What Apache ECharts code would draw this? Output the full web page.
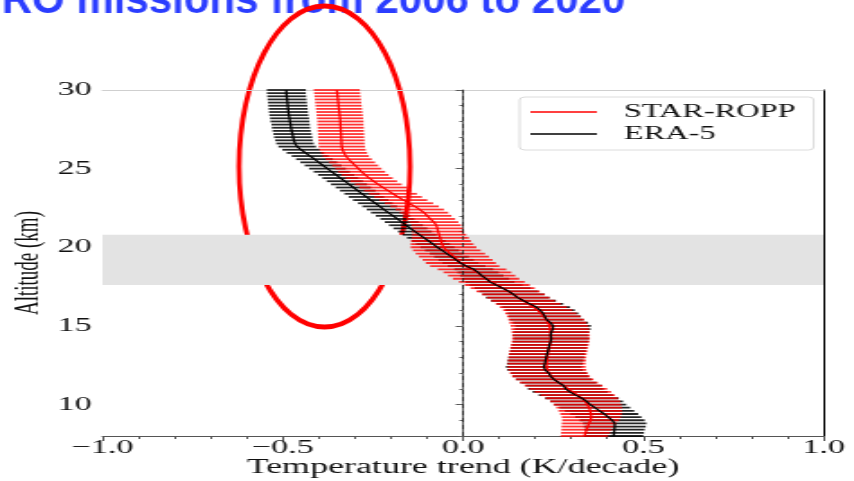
<!DOCTYPE html>
<html>
<head>
<meta charset="utf-8">
<script src="https://cdn.jsdelivr.net/npm/echarts@6/dist/echarts.min.js"></script>
<style>
html,body{margin:0;padding:0;background:#fff;overflow:hidden;}
#wrap{width:854px;height:481px;overflow:hidden;position:relative;background:#fff;}
#chart{width:475px;height:481px;transform:scaleX(1.797895);transform-origin:0 0;}
</style>
</head>
<body>
<div id="wrap"><div id="chart"></div></div>
<script>
// Altitude levels (km)
const altitudes = [
 8.0, 8.2, 8.4, 8.6, 8.8, 9.0, 9.2, 9.4, 9.6, 9.8,
 10.0,10.2,10.4,10.6,10.8,11.0,11.2,11.4,11.6,11.8,
 12.0,12.2,12.4,12.6,12.8,13.0,13.2,13.4,13.6,13.8,
 14.0,14.2,14.4,14.6,14.8,15.0,15.2,15.4,15.6,15.8,
 16.0,16.2,16.4,16.6,16.8,17.0,17.2,17.4,17.6,17.8,
 18.0,18.2,18.4,18.6,18.8,19.0,19.2,19.4,19.6,19.8,
 20.0,20.2,20.4,20.6,20.8,21.0,21.2,21.4,21.6,21.8,
 22.0,22.2,22.4,22.6,22.8,23.0,23.2,23.4,23.6,23.8,
 24.0,24.2,24.4,24.6,24.8,25.0,25.2,25.4,25.6,25.8,
 26.0,26.2,26.4,26.6,26.8,27.0,27.2,27.4,27.6,27.8,
 28.0,28.2,28.4,28.6,28.8,29.0,29.2,29.4,29.6,29.8,
 30.0
];
// STAR-ROPP temperature trend (K/decade)
const starTrend = [
 0.337,0.340,0.343,0.346,0.350,0.354,0.356,0.355,0.353,0.350,
 0.345,0.339,0.330,0.318,0.305,0.292,0.279,0.266,0.254,0.244,
 0.238,0.234,0.232,0.232,0.233,0.234,0.235,0.237,0.239,0.241,
 0.243,0.244,0.244,0.243,0.242,0.240,0.236,0.231,0.224,0.216,
 0.207,0.195,0.181,0.167,0.153,0.140,0.125,0.110,0.095,0.080,
 0.064,0.052,0.040,0.025,0.005,-0.006,-0.015,-0.025,-0.035,-0.045,
 -0.054,-0.058,-0.061,-0.063,-0.066,-0.069,-0.071,-0.074,-0.081,-0.090,
 -0.099,-0.108,-0.120,-0.134,-0.150,-0.165,-0.180,-0.194,-0.208,-0.222,
 -0.235,-0.248,-0.260,-0.271,-0.281,-0.290,-0.299,-0.308,-0.317,-0.325,
 -0.330,-0.334,-0.336,-0.337,-0.337,-0.338,-0.338,-0.339,-0.339,-0.340,
 -0.340,-0.341,-0.342,-0.343,-0.344,-0.345,-0.346,-0.347,-0.348,-0.349,
 -0.350
];
// STAR-ROPP uncertainty half-width (K/decade)
const starHalf = [
 0.066,0.068,0.070,0.073,0.076,0.079,0.082,0.085,0.088,0.091,
 0.094,0.097,0.100,0.103,0.106,0.108,0.108,0.108,0.108,0.108,
 0.108,0.108,0.108,0.108,0.108,0.108,0.108,0.108,0.108,0.108,
 0.108,0.108,0.108,0.108,0.108,0.108,0.107,0.105,0.102,0.099,
 0.096,0.093,0.090,0.088,0.087,0.087,0.088,0.089,0.090,0.091,
 0.092,0.093,0.094,0.095,0.096,0.097,0.097,0.097,0.096,0.094,
 0.091,0.087,0.083,0.079,0.075,0.072,0.070,0.069,0.068,0.068,
 0.067,0.067,0.067,0.067,0.067,0.066,0.066,0.066,0.066,0.066,
 0.065,0.065,0.065,0.065,0.065,0.064,0.064,0.064,0.064,0.064,
 0.064,0.064,0.064,0.064,0.064,0.064,0.064,0.064,0.064,0.064,
 0.064,0.064,0.064,0.064,0.064,0.064,0.064,0.064,0.064,0.064,
 0.064
];
// ERA-5 temperature trend (K/decade)
const eraTrend = [
 0.418,0.419,0.420,0.421,0.421,0.414,0.403,0.392,0.379,0.366,
 0.353,0.343,0.330,0.313,0.297,0.285,0.279,0.265,0.252,0.243,
 0.238,0.228,0.224,0.227,0.229,0.231,0.233,0.236,0.238,0.240,
 0.243,0.245,0.243,0.245,0.249,0.250,0.243,0.232,0.227,0.222,
 0.214,0.203,0.186,0.168,0.152,0.140,0.127,0.110,0.092,0.075,
 0.064,0.052,0.042,0.030,0.010,-0.007,-0.019,-0.032,-0.045,-0.058,
 -0.071,-0.083,-0.095,-0.108,-0.121,-0.133,-0.146,-0.158,-0.170,-0.182,
 -0.194,-0.207,-0.219,-0.231,-0.243,-0.256,-0.268,-0.280,-0.292,-0.304,
 -0.316,-0.328,-0.340,-0.352,-0.364,-0.376,-0.388,-0.400,-0.412,-0.424,
 -0.437,-0.449,-0.460,-0.466,-0.469,-0.471,-0.473,-0.475,-0.477,-0.478,
 -0.480,-0.481,-0.483,-0.484,-0.485,-0.486,-0.487,-0.488,-0.489,-0.490,
 -0.490
];
// ERA-5 uncertainty half-width (K/decade)
const eraHalf = [
 0.082,0.083,0.084,0.086,0.088,0.090,0.092,0.094,0.096,0.098,
 0.100,0.101,0.102,0.103,0.104,0.105,0.105,0.105,0.105,0.105,
 0.105,0.105,0.105,0.105,0.105,0.105,0.105,0.105,0.105,0.105,
 0.105,0.105,0.105,0.105,0.105,0.105,0.104,0.102,0.100,0.098,
 0.096,0.094,0.092,0.090,0.088,0.086,0.082,0.078,0.073,0.068,
 0.064,0.060,0.057,0.054,0.052,0.050,0.049,0.048,0.047,0.047,
 0.047,0.047,0.047,0.047,0.047,0.047,0.047,0.047,0.047,0.047,
 0.048,0.048,0.048,0.048,0.048,0.049,0.049,0.049,0.049,0.049,
 0.050,0.050,0.050,0.050,0.050,0.051,0.051,0.051,0.051,0.051,
 0.052,0.052,0.052,0.052,0.052,0.053,0.053,0.053,0.053,0.053,
 0.054,0.054,0.054,0.054,0.054,0.054,0.054,0.054,0.054,0.054,
 0.054
];
const seriesNames = ['STAR-ROPP', 'ERA-5'];
const tropopauseBand = [17.6, 20.8];
const titleText = 'RO missions from 2006 to 2020';
const xAxisName = 'Temperature trend (K/decade)';
const yAxisName = 'Altitude (km)';

const S = 854 / 475;
const serif = '"Liberation Serif","Times New Roman",serif';

function lineData(vals) { return vals.map((v, i) => [v, altitudes[i]]); }
function barData(vals, half) { return vals.map((v, i) => [v - half[i], v + half[i], altitudes[i]]); }
function barRenderer(color, width) {
  return function (params, api) {
    const p1 = api.coord([api.value(0), api.value(2)]);
    const p2 = api.coord([api.value(1), api.value(2)]);
    return {
      type: 'line',
      shape: { x1: p1[0], y1: p1[1], x2: p2[0], y2: p2[1] },
      style: { stroke: color, lineWidth: width }
    };
  };
}

const chart = echarts.init(document.getElementById('chart'));
chart.setOption({
  animation: false,
  backgroundColor: '#fff',
  grid: { left: 57, top: 90, width: 401, height: 346, containLabel: false, outerBoundsMode: 'none' },
  xAxis: [
    {
      type: 'value', min: -1, max: 1, interval: 0.5, position: 'bottom',
      axisLine: { show: true, lineStyle: { color: '#555', width: 1 } },
      axisTick: { show: true, inside: false, length: 5, lineStyle: { color: '#555' } },
      minorTick: { show: true, splitNumber: 5, length: 3, lineStyle: { color: '#555' } },
      splitLine: { show: false },
      axisLabel: {
        margin: 3, color: '#111', fontFamily: serif, fontSize: 19,
        formatter: v => v.toFixed(1).replace('-', '\u2212')
      },
      name: xAxisName, nameLocation: 'middle', nameGap: 22, nameMoveOverlap: false,
      nameTextStyle: { color: '#111', fontFamily: serif, fontSize: 20 }
    },
    {
      type: 'value', min: -1, max: 1, position: 'top',
      axisLine: { show: true, lineStyle: { color: '#cfcfcf', width: 1 } },
      axisTick: { show: false }, axisLabel: { show: false }, splitLine: { show: false }
    }
  ],
  yAxis: [
    {
      type: 'value', min: 8, max: 30, splitNumber: 5, minInterval: 5, maxInterval: 5, position: 'left',
      axisLine: { show: true, lineStyle: { color: '#555', width: 1 } },
      axisTick: { show: true, inside: false, length: 4, lineStyle: { color: '#555' } },
      splitLine: { show: false },
      axisLabel: { showMinLabel: false, margin: 6, color: '#111', fontFamily: serif, fontSize: 19, padding: [4, 0, 0, 0] },
      name: yAxisName, nameLocation: 'middle', nameGap: 31, nameMoveOverlap: false,
      nameTextStyle: { color: '#111', fontFamily: serif, fontSize: 19 }
    },
    {
      type: 'value', min: 8, max: 30, interval: 1, position: 'left',
      axisLine: { show: false },
      axisTick: { show: true, inside: false, length: 2, lineStyle: { color: '#666' } },
      axisLabel: { show: false }, splitLine: { show: false }
    },
    {
      type: 'value', min: 8, max: 30, position: 'right',
      axisLine: { show: true, lineStyle: { color: '#000', width: 1 } },
      axisTick: { show: false }, axisLabel: { show: false }, splitLine: { show: false }
    }
  ],
  legend: {
    data: [
      { name: seriesNames[0], icon: 'rect', itemStyle: { color: '#ff0000' } },
      { name: seriesNames[1], icon: 'rect', itemStyle: { color: '#000000' } }
    ],
    orient: 'vertical', left: 289, top: 97,
    padding: [6, 10, 7, 6],
    itemWidth: 37, itemHeight: 1.4, itemGap: 4,
    backgroundColor: '#fff', borderColor: '#dcdcdc', borderWidth: 1, borderRadius: 3,
    textStyle: { color: '#111', fontFamily: serif, fontSize: 18, padding: [0, 0, 0, 10] }
  },
  series: [
    {
      name: 'ERA-5 range', type: 'custom', z: 2,
      xAxisIndex: 0, yAxisIndex: 0,
      data: barData(eraTrend, eraHalf),
      encode: { x: [0, 1], y: 2 },
      renderItem: barRenderer('rgba(0,0,0,0.85)', 1.8),
      silent: true
    },
    {
      name: 'STAR-ROPP range', type: 'custom', z: 3,
      xAxisIndex: 0, yAxisIndex: 0,
      data: barData(starTrend, starHalf),
      encode: { x: [0, 1], y: 2 },
      renderItem: barRenderer('rgba(255,0,0,0.8)', 1.8),
      silent: true
    },
    {
      name: seriesNames[0], type: 'line', z: 4,
      xAxisIndex: 0, yAxisIndex: 0,
      data: lineData(starTrend),
      showSymbol: false, symbol: 'none',
      lineStyle: { color: '#ff0000', width: 1.3 },
      itemStyle: { color: '#ff0000' }
    },
    {
      name: seriesNames[1], type: 'line', z: 5,
      xAxisIndex: 0, yAxisIndex: 0,
      data: lineData(eraTrend),
      showSymbol: false, symbol: 'none',
      lineStyle: { color: '#000', width: 1.3 },
      itemStyle: { color: '#000' },
      markArea: {
        silent: true,
        itemStyle: { color: '#e3e3e3' },
        data: [[{ yAxis: tropopauseBand[0] }, { yAxis: tropopauseBand[1] }]]
      },
      markLine: {
        silent: true, symbol: ['none', 'none'],
        label: { show: false },
        lineStyle: { color: '#111', type: [4, 3], width: 0.7 },
        data: [{ xAxis: 0 }]
      }
    }
  ],
  graphic: [
    {
      type: 'group', x: 0, y: 0, scaleX: 1 / S, z: 100,
      children: [
        {
          type: 'text', x: 625, y: 1.5,
          style: {
            text: titleText, font: 'bold 42px "Liberation Sans", Arial, sans-serif',
            fill: '#2b3dff', align: 'right', verticalAlign: 'middle',
            textAlign: 'right', textVerticalAlign: 'middle'
          }
        },
        {
          type: 'ellipse',
          shape: { cx: 324.5, cy: 166.5, rx: 85.5, ry: 160.5 },
          style: { fill: 'transparent', stroke: '#ff0000', lineWidth: 5 }
        }
      ]
    }
  ]
});
</script>
</body>
</html>
